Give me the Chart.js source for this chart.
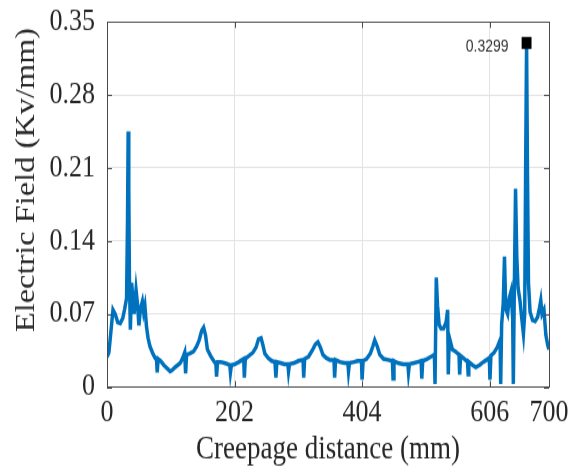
<!DOCTYPE html>
<html>
<head>
<meta charset="utf-8">
<script src="https://cdn.jsdelivr.net/npm/chart.js@4.4.1/dist/chart.umd.min.js"></script>
<style>
  html, body { margin: 0; padding: 0; background: #fff; overflow: hidden; }
  /* the figure is laid out on a 582x390 canvas and stretched to 468px tall */
  #wrap { position: absolute; left: 0; top: 0; width: 582px; height: 390px;
          transform: scaleY(1.2); transform-origin: 0 0; }
</style>
</head>
<body>
<div id="wrap"><canvas id="c"></canvas></div>
<script>
// Electric field magnitude along the insulator creepage path
const distanceMm = [
  0, 3, 6, 9.5, 13, 17, 21, 25, 28, 31, 32.5, 33.5, 34.5, 35.5, 37, 39, 41, 43, 46, 48.5,
  50.5, 53, 56, 58, 60, 62.5, 65, 68, 72, 76, 78.5, 79.5, 81, 85, 90, 95, 100, 103, 108, 112,
  116, 120, 123, 124.5, 126, 131, 137, 142, 146, 150, 153, 156, 159, 164, 169, 172.5, 173.5, 175, 180, 186,
  191, 194.5, 195.5, 197, 203, 209, 214, 216.5, 217.5, 219, 225, 231, 236, 240, 244, 247, 250, 255, 261, 266,
  267.5, 269, 275, 281, 286.5, 287.5, 289, 296, 303, 310.5, 311.5, 313, 319, 325, 330, 334, 338, 342, 347, 353,
  359.5, 360.5, 362, 369, 376, 381.5, 382.5, 384, 391, 397, 403, 404, 405.5, 411, 417, 421, 424, 428, 432, 438,
  445, 452, 453, 454.5, 461, 469, 476.5, 477.5, 479, 486, 492, 497.5, 498.5, 500, 507, 513, 518.5, 519.5, 521.5, 523.5,
  526, 529, 533, 537, 539.5, 540.5, 542, 547, 552, 557.5, 558.5, 560, 566, 571, 572, 573, 579, 584, 590, 596,
  601, 605.5, 606.5, 608, 613, 618, 622.5, 623.5, 625, 627.5, 629.5, 631.5, 634.5, 637, 640, 642.5, 643.5, 645, 647, 649,
  651, 654, 657, 659.5, 661.5, 663, 664.5, 666, 667.5, 670, 674, 678, 682, 685, 687, 689, 692, 695, 698, 700
];
const fieldKvPerMm = [
  0.029, 0.033, 0.052, 0.074, 0.070, 0.062, 0.061, 0.066, 0.075, 0.085, 0.160, 0.245, 0.190, 0.105, 0.055, 0.100, 0.085, 0.070, 0.093, 0.078,
  0.059, 0.075, 0.082, 0.072, 0.078, 0.058, 0.047, 0.039, 0.033, 0.028, 0.026, 0.014, 0.027, 0.025, 0.021, 0.018, 0.015, 0.016, 0.019, 0.021,
  0.023, 0.028, 0.033, 0.013, 0.031, 0.032, 0.034, 0.039, 0.045, 0.054, 0.057, 0.050, 0.036, 0.030, 0.025, 0.022, 0.010, 0.024, 0.024, 0.023,
  0.022, 0.021, 0.014, 0.021, 0.022, 0.024, 0.026, 0.027, 0.009, 0.027, 0.030, 0.033, 0.038, 0.046, 0.047, 0.040, 0.032, 0.028, 0.025, 0.024,
  0.009, 0.024, 0.023, 0.022, 0.022, 0.015, 0.022, 0.023, 0.025, 0.026, 0.009, 0.027, 0.029, 0.035, 0.041, 0.043, 0.038, 0.031, 0.028, 0.026,
  0.026, 0.009, 0.026, 0.024, 0.023, 0.023, 0.015, 0.023, 0.024, 0.025, 0.025, 0.007, 0.025, 0.027, 0.032, 0.039, 0.045, 0.039, 0.031, 0.027,
  0.026, 0.025, 0.008, 0.025, 0.023, 0.022, 0.022, 0.014, 0.022, 0.023, 0.024, 0.025, 0.008, 0.025, 0.027, 0.029, 0.031, 0.003, 0.105, 0.078,
  0.060, 0.056, 0.056, 0.062, 0.074, 0.012, 0.048, 0.036, 0.034, 0.031, 0.012, 0.030, 0.027, 0.024, 0.012, 0.024, 0.021, 0.019, 0.021, 0.024,
  0.026, 0.028, 0.007, 0.030, 0.033, 0.038, 0.045, 0.003, 0.060, 0.080, 0.125, 0.075, 0.070, 0.085, 0.092, 0.065, 0.003, 0.090, 0.190, 0.125,
  0.095, 0.083, 0.065, 0.051, 0.070, 0.210, 0.3299, 0.200, 0.100, 0.072, 0.064, 0.063, 0.067, 0.076, 0.083, 0.070, 0.074, 0.050, 0.040, 0.036
];

const xTickValues = [0, 202, 404, 606, 700];
const yTickValues = [0, 0.07, 0.14, 0.21, 0.28, 0.35];
const yTickLabels = ['0', '0.07', '0.14', '0.21', '0.28', '0.35'];

const xTitle = 'Creepage distance (mm)';
const yTitle = 'Electric Field (Kv/mm)';

// the maximum of the profile is flagged with a data tip
const peakIndex = fieldKvPerMm.indexOf(Math.max(...fieldKvPerMm));
const peakPoint = [{ x: distanceMm[peakIndex], y: fieldKvPerMm[peakIndex] }];

const lineColor = '#0072BD';
const axisColor = '#4a4a4a';
const gridColor = '#e3e3e3';
const textColor = '#262626';
const serif = '"Liberation Serif", "Times New Roman", serif';

// box, inward ticks, rotated y label and the data-tip text
const axesDecor = {
  id: 'axesDecor',
  afterDatasetsDraw(chart) {
    const { ctx, chartArea: a, scales: { x, y } } = chart;
    ctx.save();
    ctx.strokeStyle = axisColor;
    ctx.lineWidth = 1;
    ctx.beginPath();
    const tl = 5;
    xTickValues.forEach(v => {
      const px = Math.round(x.getPixelForValue(v)) + 0.5;
      ctx.moveTo(px, a.bottom); ctx.lineTo(px, a.bottom - tl);
      ctx.moveTo(px, a.top); ctx.lineTo(px, a.top + tl);
    });
    yTickValues.forEach(v => {
      const py = Math.round(y.getPixelForValue(v)) + 0.5;
      ctx.moveTo(a.left, py); ctx.lineTo(a.left + tl, py);
      ctx.moveTo(a.right, py); ctx.lineTo(a.right - tl, py);
    });
    ctx.stroke();
    ctx.strokeRect(Math.round(a.left) + 0.5, Math.round(a.top) + 0.5,
                   Math.round(a.right - a.left), Math.round(a.bottom - a.top));

    // data tip label
    const p = peakPoint[0];
    ctx.fillStyle = '#333';
    ctx.font = '14px "Liberation Sans", Arial, sans-serif';
    ctx.textAlign = 'right';
    ctx.textBaseline = 'middle';
    ctx.fillText(p.y.toFixed(4), x.getPixelForValue(p.x) - 18, y.getPixelForValue(p.y) + 3);
    ctx.restore();
  },
  afterDraw(chart) {
    const { ctx } = chart;
    ctx.save();
    ctx.translate(27, 150);
    ctx.rotate(-Math.PI / 2);
    ctx.fillStyle = textColor;
    ctx.font = '27px ' + serif;
    ctx.textAlign = 'center';
    ctx.textBaseline = 'middle';
    ctx.fillText(yTitle, 0, 0);
    ctx.restore();
  }
};

new Chart(document.getElementById('c'), {
  type: 'line',
  data: {
    datasets: [
      {
        data: distanceMm.map((d, i) => ({ x: d, y: fieldKvPerMm[i] })),
        borderColor: lineColor,
        borderWidth: 3.5,
        pointRadius: 0,
        tension: 0,
        fill: false,
        order: 2
      },
      {
        data: peakPoint,
        showLine: false,
        pointStyle: 'rect',
        pointRadius: 7,
        backgroundColor: '#000',
        borderColor: '#000',
        borderWidth: 0,
        order: 1
      }
    ]
  },
  options: {
    responsive: true,
    maintainAspectRatio: false,
    animation: false,
    devicePixelRatio: 1,
    layout: { padding: { top: 18.3, right: 33, left: 0, bottom: 0 } },
    plugins: { legend: { display: false }, tooltip: { enabled: false } },
    scales: {
      x: {
        type: 'linear',
        min: 0,
        max: 700,
        afterBuildTicks: s => { s.ticks = xTickValues.map(v => ({ value: v })); },
        afterFit: s => { s.height = 67.5; },
        grid: { color: gridColor, drawTicks: false },
        border: { display: false },
        ticks: {
          padding: 6,
          color: textColor,
          font: { family: serif, size: 26 },
          maxRotation: 0,
          autoSkip: false,
          callback: v => String(v)
        },
        title: {
          display: true,
          text: xTitle,
          color: textColor,
          font: { family: serif, size: 27, lineHeight: 1.1 },
          padding: { top: 0, bottom: 0 }
        }
      },
      y: {
        type: 'linear',
        min: 0,
        max: 0.35,
        afterBuildTicks: s => { s.ticks = yTickValues.map(v => ({ value: v })); },
        afterFit: s => { s.width = 107; },
        grid: { color: gridColor, drawTicks: false },
        border: { display: false },
        ticks: {
          padding: 12,
          color: textColor,
          font: { family: serif, size: 26, lineHeight: 0.4 },
          autoSkip: false,
          callback: (v, i) => yTickLabels[i]
        }
      }
    }
  },
  plugins: [axesDecor]
});
</script>
</body>
</html>
